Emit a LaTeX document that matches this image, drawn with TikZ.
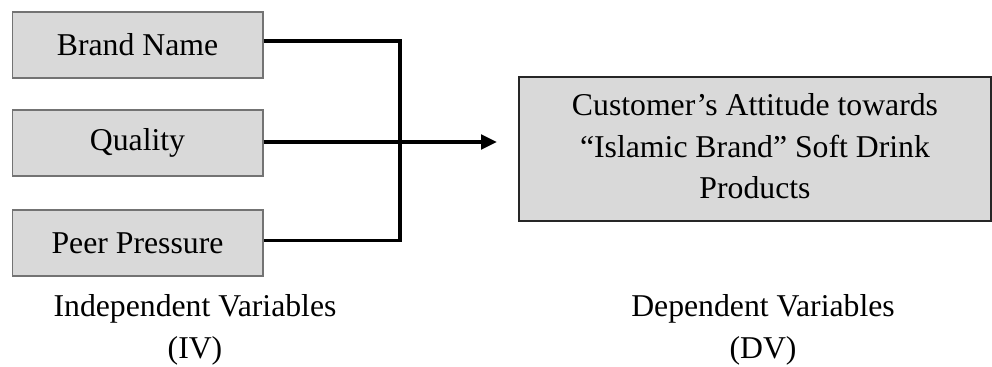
\documentclass[tikz,border=0pt]{standalone}
\usepackage{fontspec}
\setmainfont{Liberation Serif}
\usetikzlibrary{arrows.meta, calc}

\begin{document}
\begin{tikzpicture}[
    x=0.75pt, y=-0.75pt,
    every node/.style={font=\fontsize{23.8}{31}\selectfont},
    ivbox/.style={draw=black!55, fill=black!15, line width=1pt,
        minimum width=188pt, minimum height=49.5pt, inner sep=0pt},
    dvbox/.style={draw=black!85, fill=black!15, line width=1.2pt,
        minimum width=354pt, minimum height=108pt, inner sep=0pt, align=center},
    link/.style={line width=2.5pt, line join=miter},
    caption/.style={align=center, inner sep=0pt},
]
\useasboundingbox (0,0) rectangle (992,367);

% =============================================================================
% Independent variables
% =============================================================================
\node[ivbox] (brand) at (137.5, 45) {Brand Name};
\node[ivbox] (quality) at (137.5, 143) {Quality};
\node[ivbox] (peer) at (137.5, 243) {Peer Pressure};

% =============================================================================
% Dependent variable
% =============================================================================
\node[dvbox] (attitude) at (755, 149)
    {\raisebox{10pt}{\begin{tabular}{@{}c@{}}Customer’s Attitude towards\\
     “Islamic Brand” Soft Drink\\ Products\end{tabular}}};

% Connectors
\coordinate (join) at (400, 142);
\coordinate (tip) at (497, 142);
\draw[link] ([yshift=3pt]brand.east) -| (join) |- ([yshift=2pt]peer.east);
\draw[link, -{Triangle[length=12pt, width=11pt]}] (quality.east |- join) -- (tip);

% Captions
\node[caption] (ivlabel) at (195, 330) {Independent Variables\\(IV)};
\node[caption] (dvlabel) at (763, 330) {Dependent Variables\\(DV)};

\end{tikzpicture}
\end{document}
